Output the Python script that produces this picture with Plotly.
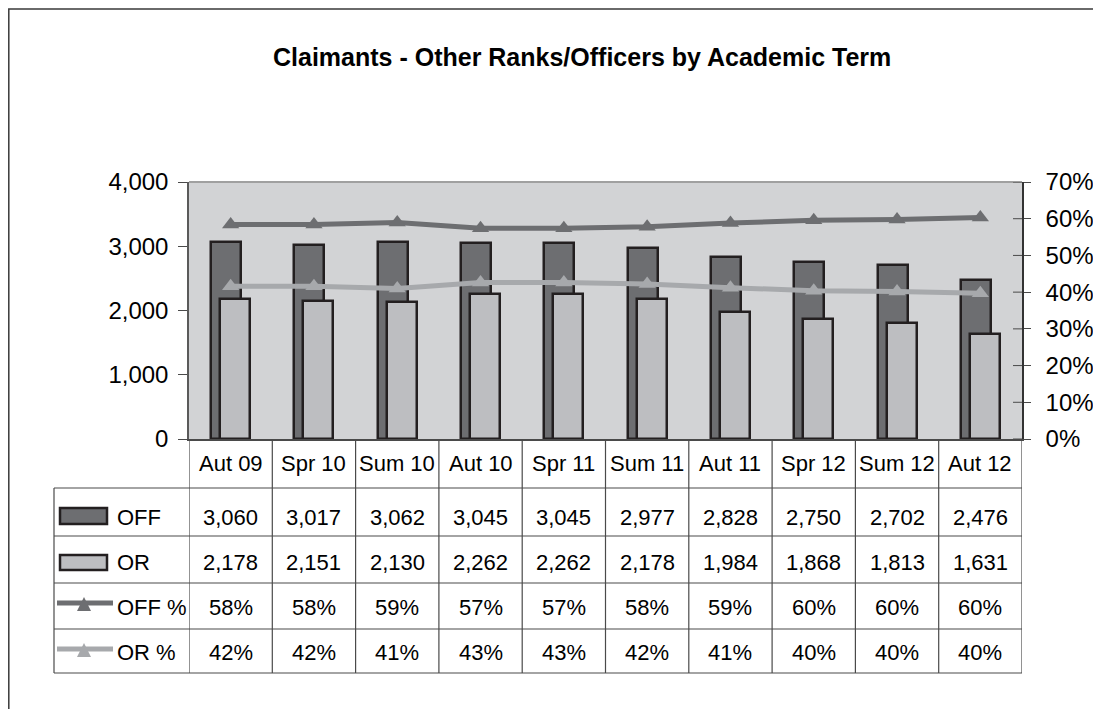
import plotly.graph_objects as go

# ---------------- data ----------------
terms = ["Aut 09", "Spr 10", "Sum 10", "Aut 10", "Spr 11", "Sum 11", "Aut 11", "Spr 12", "Sum 12", "Aut 12"]
off_counts = [3060, 3017, 3062, 3045, 3045, 2977, 2828, 2750, 2702, 2476]
or_counts = [2178, 2151, 2130, 2262, 2262, 2178, 1984, 1868, 1813, 1631]
off_pct = [58.4, 58.4, 59.0, 57.4, 57.4, 57.8, 58.8, 59.6, 59.8, 60.3]
or_pct = [41.6, 41.6, 41.0, 42.6, 42.6, 42.2, 41.2, 40.4, 40.2, 39.7]
series_names = ["OFF", "OR", "OFF %", "OR %"]
title_text = "Claimants - Other Ranks/Officers by Academic Term"

# ---------------- styling ----------------
OFFS = 8                      # page body margin of the browser
SW, SH = 1101, 717            # screen size
W, H = SW - 2 * OFFS, SH - 2 * OFFS
PL, PR, PT, PB = 189, 1022, 182, 439   # plot area in screen pixels
FONT = "Liberation Sans, Arial, sans-serif"
C_OFF = "#6d6e71"
C_OR = "#bdbec1"
C_OFFL = "#6d6e71"
C_ORL = "#a7a9ac"
C_BG = "#d2d3d5"
C_EDGE = "#231f20"
C_GRID = "#4a4a4a"

def px(x):
    return (x - PL) / (PR - PL)

def py(y):
    return (PB - y) / (PB - PT)

idx = list(range(len(terms)))

fig = go.Figure()
fig.add_trace(go.Bar(x=idx, y=off_counts, width=0.36, offset=-0.234,
                     marker=dict(color=C_OFF, line=dict(color=C_EDGE, width=2.5)),
                     name="OFF", yaxis="y"))
fig.add_trace(go.Bar(x=idx, y=or_counts, width=0.36, offset=-0.126,
                     marker=dict(color=C_OR, line=dict(color=C_EDGE, width=2.5)),
                     name="OR", yaxis="y"))
fig.add_trace(go.Scatter(x=idx, y=[v / 100 for v in off_pct], mode="lines+markers",
                         line=dict(color=C_OFFL, width=5),
                         marker=dict(symbol="triangle-up", size=15, color=C_OFFL),
                         name="OFF %", yaxis="y2", cliponaxis=False))
fig.add_trace(go.Scatter(x=idx, y=[v / 100 for v in or_pct], mode="lines+markers",
                         line=dict(color=C_ORL, width=5),
                         marker=dict(symbol="triangle-up", size=15, color=C_ORL),
                         name="OR %", yaxis="y2", cliponaxis=False))

shapes = []
annotations = []

# outer chart frame (extends beyond the right and bottom edges)
shapes.append(dict(type="rect", xref="paper", yref="paper",
                   x0=px(8.8), x1=px(1130), y0=py(9), y1=py(740),
                   line=dict(color="#3a3a3a", width=1.5), fillcolor="rgba(0,0,0,0)", layer="below"))
# plot area top border
shapes.append(dict(type="line", xref="paper", yref="paper", x0=0, x1=1, y0=1, y1=1,
                   line=dict(color="#a0a0a0", width=2)))

# right axis inside tick parts (Excel "cross" ticks)
for k in range(8):
    shapes.append(dict(type="line", xref="paper", yref="y2", x0=px(1013), x1=1,
                       y0=k / 10, y1=k / 10, line=dict(color=C_GRID, width=1)))

# ---- data table grid ----
row_lines = [488, 536, 583, 629, 673]
for yy in row_lines:
    shapes.append(dict(type="line", xref="paper", yref="paper", x0=px(54), x1=1,
                       y0=py(yy), y1=py(yy), line=dict(color=C_GRID, width=1.2)))
for i in range(len(terms) + 1):
    shapes.append(dict(type="line", xref="x", yref="paper", x0=i - 0.5, x1=i - 0.5,
                       y0=py(PB), y1=py(673), line=dict(color=C_GRID, width=1.2)))
shapes.append(dict(type="line", xref="paper", yref="paper", x0=px(54), x1=px(54),
                   y0=py(488), y1=py(673), line=dict(color=C_GRID, width=1.2)))

TFONT = dict(family=FONT, size=22, color="black")

# category labels
for i, t in enumerate(terms):
    annotations.append(dict(x=i, y=py(463), xref="x", yref="paper", text=t, showarrow=False,
                            font=TFONT, xanchor="center", yanchor="middle"))

row_centers = [517, 562, 607, 652]
rows_text = [
    [f"{v:,}" for v in off_counts],
    [f"{v:,}" for v in or_counts],
    [f"{round(v)}%" for v in off_pct],
    [f"{round(v)}%" for v in or_pct],
]
for r, (yc, vals) in enumerate(zip(row_centers, rows_text)):
    for i, s in enumerate(vals):
        annotations.append(dict(x=i, y=py(yc), xref="x", yref="paper", text=s, showarrow=False,
                                font=TFONT, xanchor="center", yanchor="middle"))
    annotations.append(dict(x=px(115), y=py(yc), xref="paper", yref="paper", text=series_names[r],
                            showarrow=False, font=TFONT, xanchor="left", yanchor="middle"))

# title
annotations.append(dict(x=px(581.5), y=py(57), xref="paper", yref="paper",
                        text=f"<b>{title_text}</b>", showarrow=False,
                        font=dict(family=FONT, size=25, color="black"),
                        xanchor="center", yanchor="middle"))

# legend keys in table
shapes.append(dict(type="rect", xref="paper", yref="paper", x0=px(60), x1=px(107),
                   y0=py(508), y1=py(524), fillcolor=C_OFF, line=dict(color=C_EDGE, width=2.5)))
shapes.append(dict(type="rect", xref="paper", yref="paper", x0=px(60), x1=px(107),
                   y0=py(555), y1=py(570), fillcolor=C_OR, line=dict(color=C_EDGE, width=2.5)))
for yl, col in [(603, C_OFFL), (649, C_ORL)]:
    shapes.append(dict(type="line", xref="paper", yref="paper", x0=px(57), x1=px(113),
                       y0=py(yl), y1=py(yl), line=dict(color=col, width=5)))
    ax, top, bot = 84, yl - 6, yl + 8
    path = f"M {px(ax)},{py(top)} L {px(ax - 7)},{py(bot)} L {px(ax + 7)},{py(bot)} Z"
    shapes.append(dict(type="path", xref="paper", yref="paper", path=path,
                       fillcolor=col, line=dict(color=col, width=0)))

fig.update_layout(
    width=W, height=H, autosize=False,
    margin=dict(l=PL - OFFS, r=(SW - OFFS) - PR, t=PT - OFFS, b=(SH - OFFS) - PB, pad=0,
                autoexpand=False),
    paper_bgcolor="white", plot_bgcolor=C_BG,
    barmode="overlay", bargap=0,
    showlegend=False,
    font=dict(family=FONT, color="black"),
    xaxis=dict(range=[-0.5, len(terms) - 0.5], showticklabels=False, ticks="", automargin=False,
               showgrid=False, zeroline=False, showline=True, linecolor=C_GRID, linewidth=1.5),
    yaxis=dict(range=[0, 4000], tickvals=[0, 1000, 2000, 3000, 4000], tickformat=",",
               ticks="outside", ticklen=9, tickcolor=C_GRID, tickwidth=1, automargin=False,
               showgrid=False, zeroline=False, showline=True, linecolor="#5a5a5a", linewidth=1.5,
               tickfont=dict(family=FONT, size=24, color="black"), ticklabelstandoff=5),
    yaxis2=dict(range=[0, 0.7], tickvals=[k / 10 for k in range(8)], tickformat=".0%",
                overlaying="y", side="right", ticks="outside", ticklen=7, tickcolor=C_GRID,
                automargin=False,
                showgrid=False, zeroline=False, showline=True, linecolor="#333333", linewidth=1.5,
                tickfont=dict(family=FONT, size=24, color="black"), ticklabelstandoff=10),
    shapes=shapes, annotations=annotations,
)

fig.write_html("out.html")
